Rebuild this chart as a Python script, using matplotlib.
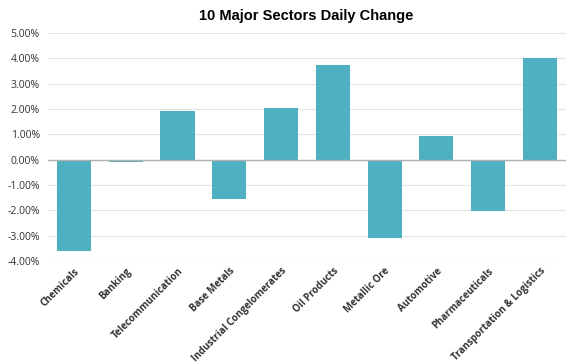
import matplotlib.pyplot as plt
from matplotlib.ticker import FuncFormatter

# data
sectors = ["Chemicals", "Banking", "Telecommunication", "Base Metals",
           "Industrial Congelomerates", "Oil Products", "Metallic Ore",
           "Automotive", "Pharmaceuticals", "Transportation & Logistics"]
change = [-3.60, -0.08, 1.92, -1.55, 2.05, 3.75, -3.10, 0.92, -2.03, 4.00]

plt.rcParams['font.family'] = ['Open Sans', 'DejaVu Sans']

fig = plt.figure(figsize=(5.78, 3.63), dpi=100)
ax = fig.add_axes([0.083, 0.281, 0.896, 0.628])

ax.bar(range(len(sectors)), change, width=0.66, color="#4FB0C1", zorder=3)

ax.set_ylim(-4, 5)
ax.set_xlim(-0.5, len(sectors) - 0.5)
ax.set_yticks(range(-4, 6))
ax.yaxis.set_major_formatter(FuncFormatter(lambda v, p: f"{v:.2f}%"))
ax.grid(axis="y", color="#e4e4e4", linewidth=0.8, zorder=0)
ax.axhline(0, color="#b0b0b0", linewidth=1, zorder=4)
for s in ax.spines.values():
    s.set_visible(False)
ax.tick_params(axis="both", length=0, labelsize=7.5, colors="#333333")
ax.tick_params(axis="y", pad=6)

ax.set_xticks(range(len(sectors)))
ax.set_xticklabels(sectors, rotation=45, ha="right", rotation_mode="anchor",
                   fontsize=7, fontweight="bold")

fig.text(0.53, 0.955, "10 Major Sectors Daily Change", ha="center", va="center",
         fontsize=10.5, fontweight="bold", family=["Liberation Sans", "DejaVu Sans"])

fig.savefig("out.png", dpi=100)
